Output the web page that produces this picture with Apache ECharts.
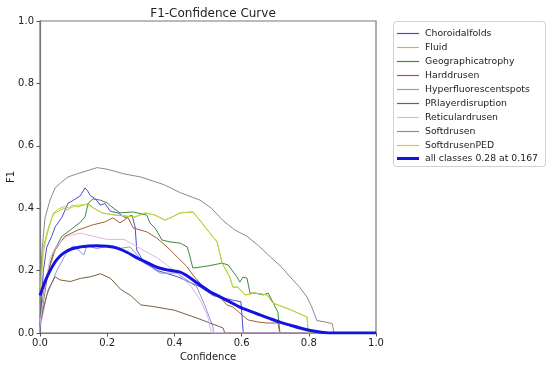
<!DOCTYPE html>
<html>
<head>
<meta charset="utf-8">
<script src="https://cdn.jsdelivr.net/npm/echarts@6/dist/echarts.min.js"></script>
<style>html,body{margin:0;padding:0;background:#fff}#c{width:550px;height:366px}</style>
</head>
<body>
<div id="c"></div>
<script>
var classNames = ['Choroidalfolds','Fluid','Geographicatrophy','Harddrusen','Hyperfluorescentspots','PRlayerdisruption','Reticulardrusen','Softdrusen','SoftdrusenPED'];
var allLabel = 'all classes 0.28 at 0.167';
var tickLabels = ['0.0','0.2','0.4','0.6','0.8','1.0'];

var choroidalfolds = [[0,0.02],[0.01,0.2],[0.02,0.275],[0.035,0.31],[0.045,0.34],[0.065,0.37],[0.083,0.415],[0.1,0.426],[0.12,0.44],[0.134,0.465],[0.142,0.455],[0.15,0.44],[0.165,0.43],[0.18,0.41],[0.193,0.415],[0.21,0.39],[0.232,0.385],[0.253,0.37],[0.274,0.377],[0.283,0.34],[0.288,0.266],[0.31,0.225],[0.35,0.2],[0.41,0.18],[0.476,0.148],[0.515,0.12],[0.575,0.105],[0.598,0.1],[0.605,0],[1,0]];
var fluid = [[0,0.15],[0.01,0.275],[0.02,0.32],[0.04,0.385],[0.054,0.39],[0.07,0.4],[0.083,0.394],[0.095,0.41],[0.113,0.404],[0.143,0.415],[0.16,0.4],[0.185,0.385],[0.223,0.378],[0.283,0.372],[0.313,0.385],[0.342,0.378],[0.372,0.362],[0.39,0.37],[0.417,0.385],[0.455,0.388],[0.482,0.353],[0.491,0.34],[0.527,0.292],[0.542,0.224],[0.565,0.179],[0.574,0.147],[0.589,0.147],[0.61,0.122],[0.64,0.128],[0.676,0.122],[0.693,0.096],[0.745,0.075],[0.795,0.051],[0.798,0],[1,0]];
var geographicatrophy = [[0,0.05],[0.01,0.12],[0.02,0.18],[0.04,0.26],[0.065,0.31],[0.09,0.33],[0.12,0.355],[0.134,0.372],[0.143,0.415],[0.158,0.43],[0.179,0.426],[0.2,0.417],[0.214,0.404],[0.238,0.385],[0.277,0.388],[0.318,0.378],[0.327,0.353],[0.342,0.337],[0.351,0.321],[0.363,0.298],[0.387,0.292],[0.417,0.288],[0.438,0.276],[0.445,0.25],[0.455,0.208],[0.5,0.215],[0.542,0.224],[0.56,0.218],[0.586,0.18],[0.595,0.163],[0.604,0.179],[0.616,0.176],[0.625,0.128],[0.64,0.128],[0.664,0.122],[0.679,0.128],[0.708,0.067],[0.714,0],[1,0]];
var harddrusen = [[0,0.03],[0.01,0.1],[0.025,0.2],[0.045,0.266],[0.074,0.31],[0.113,0.33],[0.155,0.346],[0.193,0.356],[0.217,0.369],[0.238,0.353],[0.262,0.37],[0.277,0.337],[0.318,0.324],[0.348,0.304],[0.378,0.276],[0.408,0.244],[0.438,0.212],[0.455,0.186],[0.476,0.16],[0.506,0.128],[0.536,0.115],[0.556,0.09],[0.574,0.083],[0.595,0.064],[0.619,0.042],[0.65,0.035],[0.676,0.032],[0.708,0.032],[0.714,0],[1,0]];
var hyperfluorescentspots = [[0,0.02],[0.02,0.12],[0.05,0.2],[0.08,0.26],[0.1,0.28],[0.13,0.25],[0.14,0.28],[0.17,0.27],[0.2,0.28],[0.23,0.27],[0.268,0.276],[0.307,0.228],[0.357,0.192],[0.408,0.192],[0.467,0.147],[0.49,0.09],[0.515,0.019],[0.516,0],[1,0]];
var prlayerdisruption = [[0,0.03],[0.01,0.08],[0.025,0.14],[0.045,0.18],[0.06,0.17],[0.09,0.165],[0.12,0.175],[0.15,0.18],[0.18,0.19],[0.21,0.175],[0.24,0.14],[0.27,0.12],[0.3,0.09],[0.336,0.085],[0.4,0.073],[0.467,0.048],[0.545,0.016],[0.55,0],[1,0]];
var reticulardrusen = [[0,0.03],[0.015,0.15],[0.03,0.24],[0.05,0.28],[0.08,0.31],[0.12,0.32],[0.16,0.31],[0.2,0.3],[0.25,0.3],[0.3,0.27],[0.35,0.24],[0.4,0.2],[0.45,0.15],[0.48,0.1],[0.5,0.05],[0.51,0],[1,0]];
var softdrusen = [[0,0.1],[0.003,0.2],[0.006,0.266],[0.015,0.37],[0.03,0.426],[0.045,0.465],[0.06,0.48],[0.083,0.5],[0.11,0.51],[0.14,0.52],[0.17,0.53],[0.2,0.525],[0.25,0.51],[0.3,0.5],[0.37,0.475],[0.417,0.45],[0.476,0.426],[0.51,0.4],[0.545,0.36],[0.58,0.33],[0.616,0.31],[0.65,0.28],[0.685,0.245],[0.72,0.21],[0.744,0.18],[0.77,0.15],[0.795,0.115],[0.81,0.08],[0.824,0.04],[0.85,0.035],[0.87,0.03],[0.875,0],[1,0]];
var softdrusenPED = [[0,0.12],[0.01,0.26],[0.02,0.31],[0.035,0.37],[0.05,0.395],[0.07,0.405],[0.09,0.4],[0.11,0.41],[0.14,0.412],[0.16,0.4],[0.185,0.385],[0.223,0.378],[0.283,0.372],[0.313,0.385],[0.342,0.378],[0.372,0.362],[0.39,0.37],[0.417,0.385],[0.455,0.388],[0.482,0.353],[0.491,0.34],[0.527,0.292],[0.542,0.224],[0.565,0.179],[0.574,0.147],[0.589,0.147],[0.61,0.122],[0.64,0.128],[0.676,0.122],[0.693,0.096],[0.745,0.075],[0.795,0.051],[0.798,0],[1,0]];
var allClasses = [[0,0.12],[0.015,0.165],[0.03,0.2],[0.05,0.235],[0.07,0.256],[0.095,0.27],[0.12,0.276],[0.145,0.279],[0.167,0.28],[0.2,0.278],[0.23,0.272],[0.26,0.258],[0.29,0.24],[0.32,0.225],[0.35,0.21],[0.38,0.202],[0.417,0.195],[0.445,0.178],[0.476,0.154],[0.505,0.133],[0.536,0.116],[0.565,0.1],[0.595,0.083],[0.625,0.07],[0.655,0.058],[0.685,0.046],[0.714,0.035],[0.745,0.025],[0.774,0.016],[0.805,0.008],[0.833,0.003],[0.86,0],[1,0]];

var classData = [choroidalfolds, fluid, geographicatrophy, harddrusen, hyperfluorescentspots, prlayerdisruption, reticulardrusen, softdrusen, softdrusenPED];
var classColors = ['#4b4bd6','#a8cc3c','#3c8a3c','#a0603a','#9494e0','#7a6040','#e2b4e2','#8c8c8c','#c2d23c'];

var FONT = 'DejaVu Sans';
var series = classNames.map(function(n, i){
  return {name:n, type:'line', data:classData[i], showSymbol:false, symbol:'none',
    lineStyle:{width:1, color:classColors[i]}, itemStyle:{color:classColors[i]}, z:2, animation:false};
});
series.push({name:allLabel, type:'line', data:allClasses, showSymbol:false, symbol:'none', smooth:0.3,
  lineStyle:{width:3, color:'#1414e0'}, itemStyle:{color:'#1414e0'}, z:5, animation:false});

function lab(v){ var i = Math.round(v/0.2); return tickLabels[i] !== undefined ? tickLabels[i] : ''; }

var legendText = {fontFamily:FONT, fontSize:9.3, color:'#222', lineHeight:11, padding:[0,0,0,1]};
var chart = echarts.init(document.getElementById('c'), null, {renderer:'canvas'});
chart.setOption({
  animation:false,
  backgroundColor:'#fff',
  title:{text:'F1-Confidence Curve', left:208, top:3, textAlign:'center',
    textStyle:{fontFamily:FONT, fontSize:12, fontWeight:'normal', color:'#222'}},
  grid:{left:40, right:174, top:21, bottom:33, show:true, borderColor:'#777', borderWidth:1.2,
    backgroundColor:'transparent', containLabel:false, outerBoundsMode:'none'},
  xAxis:{type:'value', min:0, max:1, interval:0.2, name:'Confidence', nameLocation:'middle', nameGap:17,
    nameTextStyle:{fontFamily:FONT, fontSize:10, color:'#222'},
    axisLine:{show:true, lineStyle:{color:'#777', width:1.2}},
    axisTick:{show:true, inside:false, length:3.5, lineStyle:{color:'#555'}},
    axisLabel:{formatter:lab, fontFamily:FONT, fontSize:10, color:'#222', margin:5},
    splitLine:{show:false}},
  yAxis:{type:'value', min:0, max:1, interval:0.2, name:'F1', nameLocation:'middle', nameGap:24,
    nameMoveOverlap:false,
    nameTextStyle:{fontFamily:FONT, fontSize:10, color:'#222'},
    axisLine:{show:true, lineStyle:{color:'#777', width:1.2}},
    axisTick:{show:true, inside:false, length:3.5, lineStyle:{color:'#555'}},
    axisLabel:{formatter:lab, fontFamily:FONT, fontSize:10, color:'#222', margin:6},
    splitLine:{show:false}},
  legend:[
    {data:classNames.map(function(n){return {name:n, icon:'rect'};}), orient:'vertical', left:397, top:28,
      itemWidth:22, itemHeight:1.2, itemGap:3, padding:0, textStyle:legendText},
    {data:[{name:allLabel, icon:'rect'}], orient:'vertical', left:397, top:153,
      itemWidth:22, itemHeight:3, itemGap:3, padding:0, textStyle:legendText}
  ],
  graphic:[{type:'rect', shape:{x:393.5, y:21.5, width:152, height:145, r:3}, z:-1,
    style:{fill:'#fff', stroke:'#d0d0d0', lineWidth:1}}],
  series:series
});
</script>
</body>
</html>
